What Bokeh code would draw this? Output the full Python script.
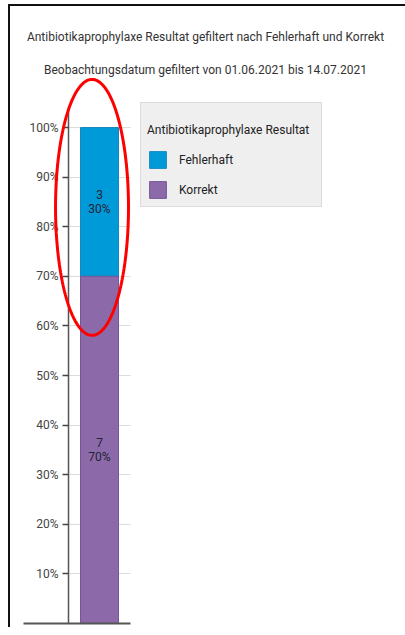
import numpy as np
from bokeh.plotting import figure
from bokeh.models import (Range1d, LinearAxis, FixedTicker, NumeralTickFormatter, ColumnDataSource,
                          Legend, LegendItem, BoxAnnotation, PolyAnnotation, Label, Grid)
from bokeh.core.properties import value
from bokeh.embed import file_html
from bokeh.resources import INLINE

# ---- data ----
title_lines = ["Antibiotikaprophylaxe Resultat gefiltert nach Fehlerhaft und Korrekt",
               "Beobachtungsdatum gefiltert von 01.06.2021 bis 14.07.2021"]
legend_title = "Antibiotikaprophylaxe Resultat"
results = ["Fehlerhaft", "Korrekt"]
counts = [3, 7]
y_ticks = [0.1, 0.2, 0.3, 0.4, 0.5, 0.6, 0.7, 0.8, 0.9, 1.0]

# ---- styles ----
FONT = "Roboto"
colors = {"Fehlerhaft": "#009ad8", "Korrekt": "#8c6aaa"}
edges = {"Fehlerhaft": "#1688bf", "Korrekt": "#765696"}

total = sum(counts)
shares = {r: c / total for r, c in zip(results, counts)}
cnt = dict(zip(results, counts))
# stack: last result at the bottom
bottoms, tops = {}, {}
acc = 0.0
for r in reversed(results):
    bottoms[r] = acc
    acc += shares[r]
    tops[r] = acc

src = ColumnDataSource(dict(
    x=[0] * len(results),
    bottom=[bottoms[r] for r in results],
    top=[tops[r] for r in results],
    mid=[(bottoms[r] + tops[r]) / 2 for r in results],
    fill=[colors[r] for r in results],
    edge=[edges[r] for r in results],
    text=[f"{cnt[r]}\n{round(shares[r] * 100)}%" for r in results],
))

AXIS_X = -0.816      # position of the value axis (left of the bar)
PLOT_RIGHT = 0.816   # right end of the plotting strip
X0, X1 = -2.0, 8.0526
Y1 = 1.244

p = figure(frame_width=382, frame_height=617,
           x_range=Range1d(X0, X1), y_range=Range1d(0, Y1),
           output_backend="svg", toolbar_location=None,
           x_axis_location=None, y_axis_location=None,
           min_border=0, min_border_left=13, min_border_right=0,
           min_border_top=0, min_border_bottom=4,
           outline_line_color=None, background_fill_color="white",
           border_fill_color="white")
p.styles = {"margin-left": "8px", "margin-top": "4px",
            "border-left": "2px solid #111", "border-top": "2px solid #111"}
p.grid.visible = False

grid = Grid(dimension=1, ticker=FixedTicker(ticks=y_ticks),
            grid_line_color="#dcdcdc", grid_line_width=1)
p.add_layout(grid)
p.add_layout(BoxAnnotation(right=AXIS_X, fill_color="white", fill_alpha=1,
                           line_alpha=0, level="underlay"))
p.add_layout(BoxAnnotation(left=PLOT_RIGHT, fill_color="white", fill_alpha=1,
                           line_alpha=0, level="underlay"))

yaxis = LinearAxis(fixed_location=AXIS_X, ticker=FixedTicker(ticks=y_ticks),
                   formatter=NumeralTickFormatter(format="0%"), bounds=(0, 1.04),
                   axis_line_color="#555555", axis_line_width=1.5,
                   major_tick_line_color="#444444", major_tick_line_width=1.5,
                   major_tick_in=0, major_tick_out=6,
                   minor_tick_line_color=None, major_label_standoff=4,
                   major_label_text_font=FONT, major_label_text_font_size="12px",
                   major_label_text_color="#444444")
p.add_layout(yaxis, "left")

xaxis = LinearAxis(ticker=FixedTicker(ticks=[]), bounds=(X0, PLOT_RIGHT),
                   axis_line_color="#555555", axis_line_width=2,
                   major_tick_line_color=None, minor_tick_line_color=None,
                   major_label_text_font_size="0px",
                   major_label_standoff=0, major_tick_out=0, major_tick_in=0)
p.add_layout(xaxis, "below")

bars = p.vbar(x="x", bottom="bottom", top="top", width=1, source=src,
              fill_color="fill", line_color="edge", line_width=1)

p.text(x="x", y="mid", text="text", source=src, text_align="center",
       text_baseline="middle", text_font=value(FONT), text_font_size="12px",
       text_color="#222233", text_line_height=1.05)

legend = Legend(items=[LegendItem(label=r, renderers=[bars], index=i)
                       for i, r in enumerate(results)],
                title="\n" + legend_title, location=(117, 416), margin=0,
                padding=6, spacing=9, glyph_width=21, glyph_height=21,
                label_height=21, label_width=136, label_standoff=11,
                title_standoff=12,
                label_text_font=FONT, label_text_font_size="12px",
                label_text_color="#222222",
                title_text_font=FONT, title_text_font_size="12px",
                title_text_line_height=1.0,
                title_text_font_style="normal", title_text_color="#222222",
                background_fill_color="#efefef", background_fill_alpha=1,
                border_line_color="#c8c8c8", border_line_width=1.5)
p.add_layout(legend)

# titles
p.add_layout(Label(x=2.789, y=1.1815, text=title_lines[0], text_align="center",
                   text_baseline="middle", text_font=FONT, text_font_size="12px",
                   text_color="#333333"))
p.add_layout(Label(x=2.789, y=1.1169, text=title_lines[1], text_align="center",
                   text_baseline="middle", text_font=FONT, text_font_size="12px",
                   text_color="#333333"))

# red highlight ellipse around the "Fehlerhaft" segment
t = np.linspace(0, 2 * np.pi, 240)
ex = -0.197 + 0.96 * np.cos(t)
ey = 0.839 + 0.258 * np.sin(t)
p.add_layout(PolyAnnotation(xs=ex.tolist(), ys=ey.tolist(), fill_color=None,
                            line_color="#ff0000", line_alpha=1, line_width=3))

open("out.html", "w").write(file_html(p, INLINE))
